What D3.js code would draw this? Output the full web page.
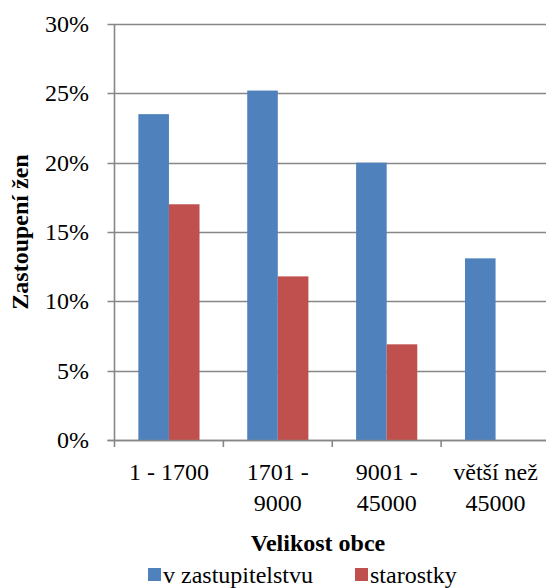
<!DOCTYPE html>
<html><head><meta charset="utf-8">
<script src="https://cdn.jsdelivr.net/npm/d3@7"></script>
</head><body style="margin:0">
<svg id="c" width="546" height="588"></svg>
<script>
const categories = [["1 - 1700"], ["1701 -", "9000"], ["9001 -", "45000"], ["větší než", "45000"]];
const seriesNames = ["v zastupitelstvu", "starostky"];
const zastupitelstvo = [0.235, 0.252, 0.200, 0.131];
const starostky = [0.170, 0.118, 0.069, null];
const yTicks = [0, 0.05, 0.10, 0.15, 0.20, 0.25, 0.30];
const colors = ["#4F81BD", "#C0504D"];

const svg = d3.select("#c");
const pL = 114.5, pR = 550, pT = 24, pB = 440;
const xS = d3.scaleBand().domain(d3.range(categories.length)).range([pL, pR]);
const inner = d3.scaleBand().domain([0, 1]).range([0, xS.bandwidth()]).paddingInner(0).paddingOuter(0.78);
const yS = d3.scaleLinear().domain([0, 0.30]).range([pB, pT]);
const grid = "#878787";

svg.append("g").selectAll("line").data(yTicks).join("line")
  .attr("x1", pL - 7).attr("x2", 546)
  .attr("y1", d => Math.round(yS(d)) + 0.5).attr("y2", d => Math.round(yS(d)) + 0.5)
  .attr("stroke", grid).attr("stroke-width", 1.6);

[zastupitelstvo, starostky].forEach((vals, s) => {
  svg.append("g").selectAll("rect").data(vals.map((v, i) => ({v, i})).filter(d => d.v != null)).join("rect")
    .attr("x", d => xS(d.i) + inner(s))
    .attr("width", inner.bandwidth())
    .attr("y", d => yS(d.v))
    .attr("height", d => yS(0) - yS(d.v))
    .attr("fill", colors[s]);
});

svg.append("line").attr("x1", pL).attr("x2", pL).attr("y1", pT).attr("y2", pB + 7)
  .attr("stroke", grid).attr("stroke-width", 1.6);
svg.append("line").attr("x1", pL - 7).attr("x2", 546).attr("y1", pB + 0.5).attr("y2", pB + 0.5)
  .attr("stroke", grid).attr("stroke-width", 1.6);
svg.append("g").selectAll("line").data(d3.range(1, categories.length + 1)).join("line")
  .attr("x1", i => pL + i * xS.step()).attr("x2", i => pL + i * xS.step())
  .attr("y1", pB).attr("y2", pB + 7).attr("stroke", grid).attr("stroke-width", 1.6);

svg.append("g").selectAll("text").data(yTicks).join("text")
  .attr("x", 89).attr("y", d => yS(d) + 8)
  .attr("text-anchor", "end").attr("font-size", 24).style("font-family", "'Liberation Serif'")
  .text(d => d3.format(".0%")(d));

categories.forEach((lines, i) => {
  const cx = xS(i) + xS.bandwidth() / 2;
  lines.forEach((l, j) => {
    svg.append("text").attr("text-anchor", "middle").attr("font-size", 24).style("font-family", "'Liberation Serif'")
      .attr("x", cx).attr("y", 480 + j * 31).text(l);
  });
});

svg.append("text").attr("text-anchor", "middle").attr("font-size", 24).attr("font-weight", "bold")
  .style("font-family", "'Liberation Serif'")
  .attr("transform", "translate(28,232) rotate(-90)").text("Zastoupení žen");
svg.append("text").attr("text-anchor", "middle").attr("font-size", 24).attr("font-weight", "bold")
  .style("font-family", "'Liberation Serif'")
  .attr("x", 318).attr("y", 551).text("Velikost obce");

const legX = [148, 355];
seriesNames.forEach((n, s) => {
  svg.append("rect").attr("x", legX[s]).attr("y", 568).attr("width", 13).attr("height", 13).attr("fill", colors[s]);
  svg.append("text").attr("x", legX[s] + 15).attr("y", 583).attr("font-size", 24)
    .style("font-family", "'Liberation Serif'").text(n);
});
</script>
</body></html>
